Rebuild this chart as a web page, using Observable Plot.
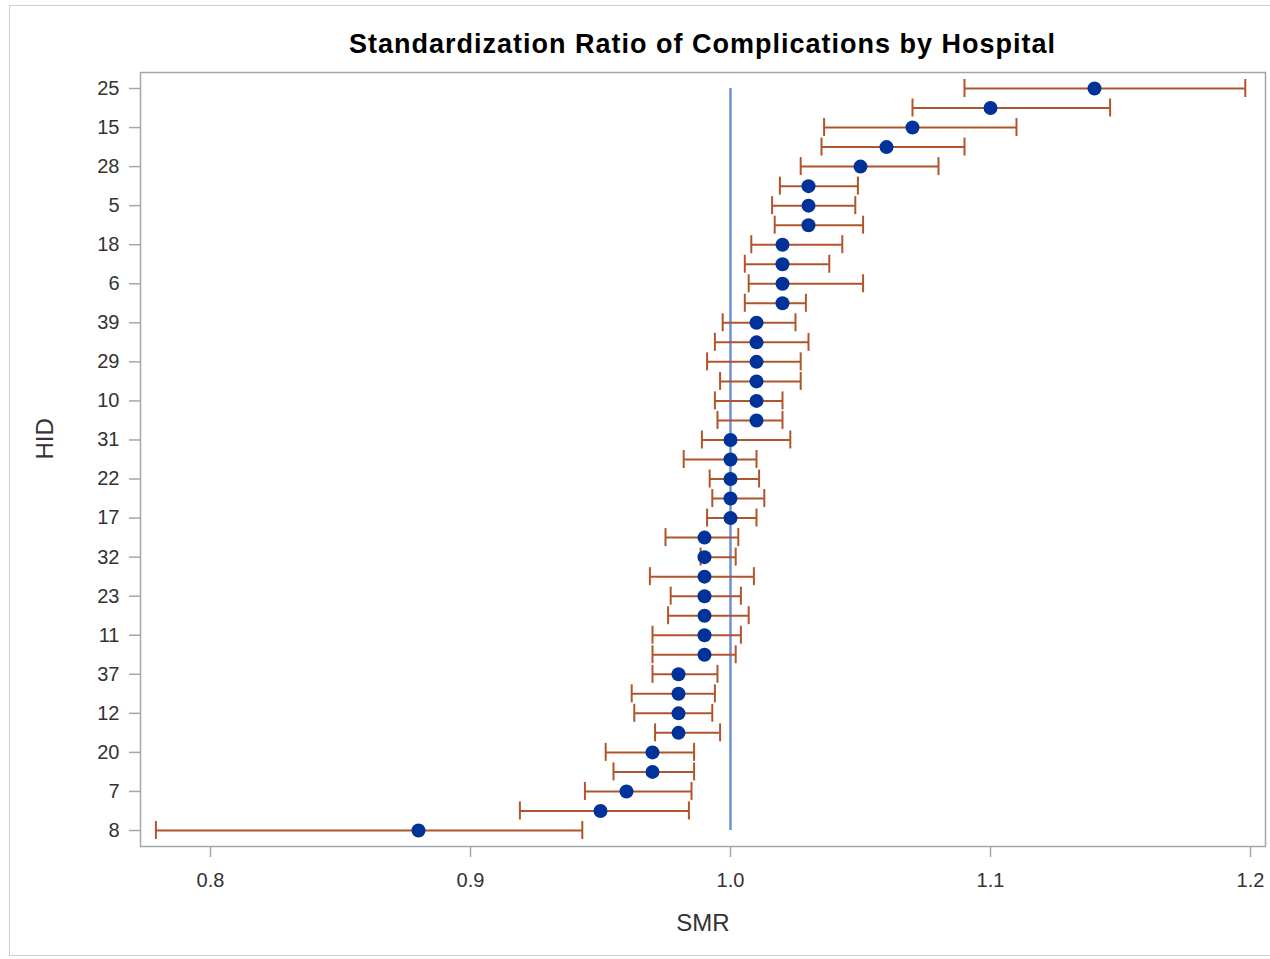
<!DOCTYPE html>
<html>
<head>
<meta charset="utf-8">
<script src="https://cdn.jsdelivr.net/npm/d3@7"></script>
<script src="https://cdn.jsdelivr.net/npm/@observablehq/plot@0.6"></script>
<style>
  body { margin: 0; background: #fff; width: 1270px; height: 959px; overflow: hidden; position: relative;
         font-family: "Liberation Sans", Arial, sans-serif; }
  #border { position: absolute; left: 9px; top: 5px; width: 1300px; height: 949px; border: 1px solid #cfcfcf; z-index: 2; pointer-events: none; }
  #title { position: absolute; left: 140px; width: 1125px; top: 28px; line-height: 32px; text-align: center;
           font-weight: bold; font-size: 27px; letter-spacing: 1px; color: #000; }
  #chart { position: absolute; left: 0; top: 60px; }
</style>
</head>
<body>
<div id="border"></div>
<div id="title">Standardization Ratio of Complications by Hospital</div>
<div id="chart"></div>
<script>
// Hospital IDs, top to bottom (only every other one is labelled on the axis)
const hids = ["25","34","15","2","28","13","5","26","18","9","6","36","39","21","29","3","10","30","31","14",
              "22","38","17","1","32","24","23","16","11","33","37","4","12","27","20","19","7","35","8"];
const smr = [1.14,1.10,1.07,1.06,1.05,1.03,1.03,1.03,1.02,1.02,1.02,1.02,1.01,1.01,1.01,1.01,1.01,1.01,
             1.00,1.00,1.00,1.00,1.00,0.99,0.99,0.99,0.99,0.99,0.99,0.99,0.98,0.98,0.98,0.98,0.97,0.97,0.96,0.95,0.88];
const lower = [1.090,1.070,1.036,1.035,1.027,1.019,1.016,1.017,1.008,1.0055,1.007,1.0055,0.997,0.994,0.991,0.996,0.994,0.995,
               0.989,0.982,0.992,0.993,0.991,0.975,0.9885,0.969,0.977,0.976,0.970,0.970,0.970,0.962,0.963,0.971,0.952,0.955,0.944,0.919,0.779];
const upper = [1.198,1.146,1.110,1.090,1.080,1.049,1.048,1.051,1.043,1.038,1.051,1.029,1.025,1.030,1.027,1.027,1.020,1.020,
               1.023,1.010,1.011,1.013,1.010,1.003,1.002,1.009,1.004,1.007,1.004,1.002,0.995,0.994,0.993,0.996,0.986,0.986,0.985,0.984,0.943];
const yTickLabels = ["25","15","28","5","18","6","39","29","10","31","22","17","32","23","11","37","12","20","7","8"];
const xTicks = [0.8, 0.9, 1.0, 1.1, 1.2];
const refValue = 1.0;

const data = hids.map((h, i) => ({hid: h, smr: smr[i], lower: lower[i], upper: upper[i]}));

const barColor = "#b0552a";
const dotColor = "#003399";
const axisColor = "#a3a7ab";
const textColor = "#333333";

const chart = Plot.plot({
  width: 1270,
  height: 899,
  marginTop: 12,
  marginBottom: 113,
  marginLeft: 140,
  marginRight: 5,
  style: { fontFamily: "'Liberation Sans', Arial, sans-serif", background: "transparent", color: textColor },
  x: { domain: [0.77308, 1.20577], label: null },
  y: { type: "point", domain: hids, padding: 0.8194, round: false, label: null },
  marks: [
    Plot.ruleX([refValue], { x: d => d, y1: () => hids[0], y2: () => hids[hids.length - 1], stroke: "#6a8bd6", strokeWidth: 2.4 }),
    Plot.ruleY(data, { y: "hid", x1: "lower", x2: "upper", stroke: barColor, strokeWidth: 2 }),
    Plot.ruleX(data, { x: "lower", y1: "hid", y2: "hid", stroke: barColor, strokeWidth: 2, insetTop: -9, insetBottom: -9 }),
    Plot.ruleX(data, { x: "upper", y1: "hid", y2: "hid", stroke: barColor, strokeWidth: 2, insetTop: -9, insetBottom: -9 }),
    Plot.dot(data, { x: "smr", y: "hid", r: 7, fill: dotColor, stroke: "none" }),
    Plot.frame({ stroke: axisColor, strokeWidth: 1.5 }),
    Plot.axisX({ ticks: xTicks, tickFormat: d3.format(".1f"), tickSize: 11, tickPadding: 15, fontSize: 20,
                 stroke: axisColor, fill: textColor, strokeWidth: 1.5, label: null }),
    Plot.axisY({ ticks: yTickLabels, tickSize: 11, tickPadding: 10, fontSize: 20,
                 stroke: axisColor, fill: textColor, strokeWidth: 1.5, label: null }),
    Plot.text(["SMR"], { frameAnchor: "bottom", dy: 77, lineAnchor: "middle", fontSize: 24, fill: textColor }),
    Plot.text(["HID"], { frameAnchor: "left", dx: -95, rotate: -90, lineAnchor: "middle", fontSize: 24, fill: textColor })
  ]
});
document.getElementById("chart").appendChild(chart);
</script>
</body>
</html>
